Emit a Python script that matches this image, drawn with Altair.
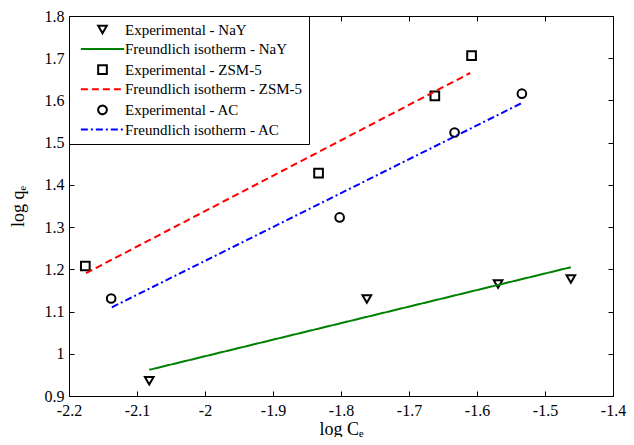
import altair as alt
import pandas as pd

series_names = [
    "Experimental - NaY",
    "Freundlich isotherm - NaY",
    "Experimental - ZSM-5",
    "Freundlich isotherm - ZSM-5",
    "Experimental - AC",
    "Freundlich isotherm - AC",
]

# Experimental points
nay_x = [-2.082, -1.762, -1.569, -1.462]
nay_y = [0.936, 1.130, 1.165, 1.177]
zsm_x = [-2.176, -1.833, -1.662, -1.608]
zsm_y = [1.208, 1.428, 1.611, 1.706]
ac_x = [-2.138, -1.802, -1.633, -1.534]
ac_y = [1.131, 1.323, 1.524, 1.616]

# Freundlich fits (straight lines in log-log)
nay_fit_x = [-2.082, -1.462]
nay_fit_y = [0.962, 1.205]
zsm_fit_x = [-2.175, -1.610]
zsm_fit_y = [1.191, 1.665]
ac_fit_x = [-2.137, -1.534]
ac_fit_y = [1.110, 1.594]

x_ticks = [-2.2, -2.1, -2.0, -1.9, -1.8, -1.7, -1.6, -1.5, -1.4]
y_ticks = [0.9, 1.0, 1.1, 1.2, 1.3, 1.4, 1.5, 1.6, 1.7, 1.8]

colors = ["black", "#008000", "black", "#ff0000", "black", "#0000ff"]
shapes = ["triangle-down", "M-5,0H5", "square", "M-5,0H5", "circle", "M-5,0H5"]
dashes = [[1, 0], [1, 0], [1, 0], [7, 4], [1, 0], [7, 3, 2, 3]]

pts = pd.concat([
    pd.DataFrame({"x": nay_x, "y": nay_y, "series": series_names[0]}),
    pd.DataFrame({"x": zsm_x, "y": zsm_y, "series": series_names[2]}),
    pd.DataFrame({"x": ac_x, "y": ac_y, "series": series_names[4]}),
])
fits = pd.concat([
    pd.DataFrame({"x": nay_fit_x, "y": nay_fit_y, "series": series_names[1]}),
    pd.DataFrame({"x": zsm_fit_x, "y": zsm_fit_y, "series": series_names[3]}),
    pd.DataFrame({"x": ac_fit_x, "y": ac_fit_y, "series": series_names[5]}),
])

FONT = "Liberation Serif"
xscale = alt.Scale(domain=[-2.2, -1.4], nice=False, zero=False)
yscale = alt.Scale(domain=[0.9, 1.8], nice=False, zero=False)
color_scale = alt.Scale(domain=series_names, range=colors)
shape_scale = alt.Scale(domain=series_names, range=shapes)
dash_scale = alt.Scale(domain=series_names, range=dashes)

legend = alt.Legend(title=None, orient="top-left", offset=0,
                    labelFont=FONT, labelFontSize=15)

tick_common = dict(domain=False, grid=False, offset=-5, tickSize=5,
                   tickColor="black", tickWidth=1)
label_common = dict(labelFont=FONT, labelFontSize=16, labelColor="black",
                    labelFlush=False, labelOverlap=False,
                    titleFont=FONT, titleFontSize=18, titleFontWeight="normal",
                    titleColor="black", labelExpr="'' + datum.value")

points = alt.Chart(pts).mark_point(filled=False, size=75, strokeWidth=2, opacity=1).encode(
    x=alt.X("x:Q", scale=xscale,
            axis=alt.Axis(values=x_ticks, title="log Cₑ", orient="bottom",
                          labelPadding=6, titlePadding=2, **tick_common, **label_common)),
    y=alt.Y("y:Q", scale=yscale,
            axis=alt.Axis(values=y_ticks, title="log qₑ", orient="left",
                          labelPadding=5, titlePadding=17, **tick_common, **label_common)),
    shape=alt.Shape("series:N", scale=shape_scale, legend=legend),
    color=alt.Color("series:N", scale=color_scale, legend=legend),
)

lines = alt.Chart(fits).mark_line(strokeWidth=2).encode(
    x=alt.X("x:Q", scale=xscale,
            axis=alt.Axis(values=x_ticks, title=None, orient="top", labels=False, **tick_common)),
    y=alt.Y("y:Q", scale=yscale,
            axis=alt.Axis(values=y_ticks, title=None, orient="right", labels=False, **tick_common)),
    color=alt.Color("series:N", scale=color_scale, legend=legend),
    strokeDash=alt.StrokeDash("series:N", scale=dash_scale, legend=legend),
)

chart = alt.layer(points, lines).resolve_axis(x="independent", y="independent").properties(
    width=544, height=380,
    background="white",
    autosize=alt.AutoSizeParams(type="none"),
    padding={"left": 61, "top": 8, "right": 13, "bottom": 41},
).configure_view(
    stroke="black", strokeWidth=1
).configure_legend(
    strokeColor="black", fillColor="white", padding=6, cornerRadius=0,
    labelFont=FONT, labelFontSize=15, labelLimit=400, labelColor="black",
    symbolSize=75, symbolStrokeWidth=2, rowPadding=3.6,
    symbolOffset=20, labelOffset=15, symbolOpacity=1,
)

chart.save("out.html", embed_options={"renderer": "svg", "actions": False})
